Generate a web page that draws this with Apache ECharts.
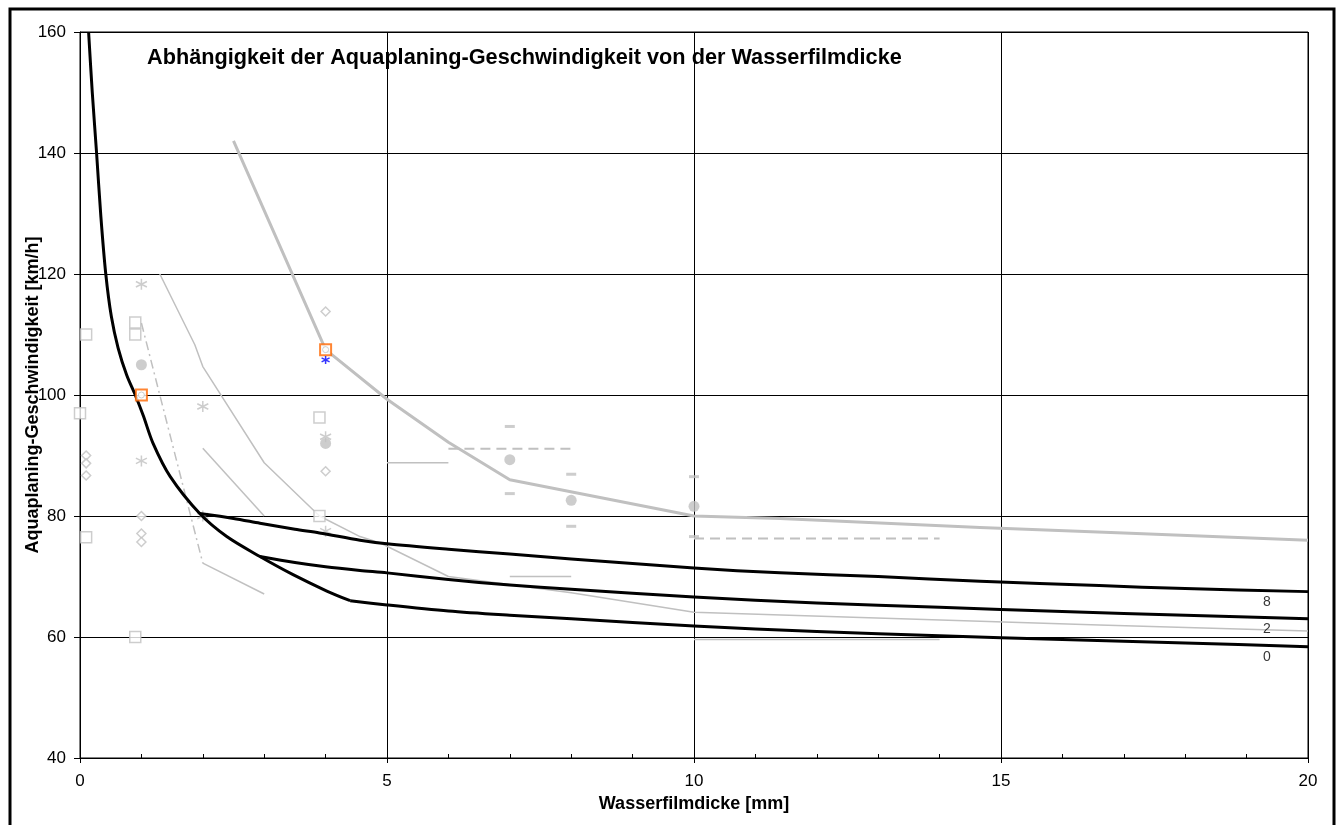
<!DOCTYPE html>
<html>
<head>
<meta charset="utf-8">
<script src="https://cdn.jsdelivr.net/npm/echarts/dist/echarts.min.js"></script>
<style>
  html, body { margin: 0; padding: 0; background: #fff; }
  #chart { width: 1336px; height: 825px; }
</style>
</head>
<body>
<div id="chart"></div>
<script>
// Aquaplaning speed [km/h] over water film depth [mm]

// black curves (tread depth 0, 2 and 8 mm); the 0 mm curve has a kink at 4.4 mm
const curve0Steep = [[0.14,160],[0.2,150],[0.27,140],[0.34,129.5],[0.42,120],[0.51,113],[0.62,107.8],[0.76,103.3],
  [0.9,100],[1.03,96.6],[1.19,92],[1.47,86.5],[1.95,80.4],[2.39,76.6],[2.93,73.3],[3.47,70.3],[4.02,67.6],[4.4,66]];
const curve0Flat = [[4.4,66],[5,65.3],[6,64.3],[7,63.6],[8,63],[10,61.8],[12,60.9],[14,60.2],[16,59.6],[18,59],[20,58.4]];
const curve2 = [[2.93,73.3],[3.5,72.3],[4,71.6],[4.56,71],[5,70.6],[6,69.5],[7,68.6],[8,67.9],[10,66.6],
  [12,65.6],[14,64.9],[16,64.2],[18,63.6],[20,63]];
const curve8 = [[1.95,80.4],[2.5,79.6],[2.93,78.8],[3.5,77.8],[3.9,77.2],[4.56,76],[5,75.4],[6,74.5],[7,73.7],
  [8,72.9],[10,71.4],[11.4,70.6],[13,70],[14.66,69.2],[16.6,68.5],[18,68],[20,67.5]];
const curveNames = [
  { x: 19.33, y: 67.7, text: '8' },
  { x: 19.33, y: 63.2, text: '2' },
  { x: 19.33, y: 58.6, text: '0' }
];

// grey measured curves
const measuredUpper = [[2.5,142],[4,107.5],[5,99.3],[6,92.2],[7,86],[10,80],[11.4,79.6],[14.66,78.1],[17,77.2],[20,76]];
const measuredLower = [[1.3,120],[1.87,108.3],[2,104.7],[3,88.8],[3.9,80],[4.56,76.6],[4.9,75.5],[6,70],[8,67.3],
  [10,64.1],[14.66,62.6],[16.6,62],[20,61]];
const measuredShortA = [[2,91.2],[3,80]];
const measuredDashDot = [[1,111.9],[2,72.2]];
const measuredTail = [[2,72.2],[3,67.1]];
const levelA = [[5,88.8],[6,88.8]];
const levelB = [[6,91.1],[8,91.1]];
const levelC = [[10,76.3],[14,76.3]];
const levelD = [[7,70],[8,70]];
const levelE = [[10,59.6],[14,59.6]];

// individual measurements
const squares = [[0.1,110],[0,97],[0.1,76.5],[0.9,112],[0.9,110],[0.9,60],[3.9,96.3],[3.9,80]];
const diamonds = [[0.1,90],[0.1,88.7],[0.1,86.7],[1,80],[1,77.1],[1,75.7],[4,113.8],[4,87.4]];
const stars = [[1,118.3],[1,89.1],[2,98.1],[2,80],[4,93.1],[4,77.5]];
const dots = [[1,105],[4,92],[7,89.3],[8,82.6],[10,81.6]];
const bars = [[7,94.8],[7,83.7],[8,86.9],[8,78.3],[10,86.5],[10,76.6]];
const highlighted = [[1,100],[4,107.5]];
const blueStar = [[4,105.8]];

// axis ticks
const xTickStep = 5, xMinorStep = 1, xMin = 0, xMax = 20;
const yTickStep = 20, yMin = 40, yMax = 160;

const GREY = '#c0c0c0';
const FONT = '"Liberation Sans", Arial, sans-serif';
const STAR = 'path://M5,0L5,10M0.67,2.5L9.33,7.5M0.67,7.5L9.33,2.5';

function line(data, width, color, type, z, smooth) {
  return {
    type: 'line', data, symbol: 'none', silent: true, z: z || 2,
    smooth: smooth || false,
    lineStyle: { color, width, type: type || 'solid', cap: 'butt', join: 'round' },
    animation: false
  };
}
function marks(data, symbol, size, style, z) {
  return {
    type: 'scatter', data, symbol, symbolSize: size, silent: true, z: z || 3,
    itemStyle: style, animation: false
  };
}

const chart = echarts.init(document.getElementById('chart'), null, { renderer: 'canvas' });
chart.setOption({
  backgroundColor: '#fff',
  animation: false,
  title: {
    text: 'Abhängigkeit der Aquaplaning-Geschwindigkeit von der Wasserfilmdicke',
    left: 142, top: 42,
    textStyle: { fontFamily: FONT, fontSize: 21.7, fontWeight: 'bold', color: '#000' }
  },
  grid: { left: 80, top: 32, width: 1228, height: 726, show: true, borderColor: '#000', borderWidth: 1 },
  xAxis: [{
    type: 'value', min: xMin, max: xMax, interval: xTickStep,
    name: 'Wasserfilmdicke [mm]', nameLocation: 'middle', nameGap: 37, nameMoveOverlap: false,
    nameTextStyle: { fontFamily: FONT, fontSize: 18, fontWeight: 'bold', color: '#000' },
    axisLine: { lineStyle: { color: '#000', width: 1 } },
    axisTick: { show: true, length: 5, lineStyle: { color: '#000' } },
    axisLabel: { fontFamily: FONT, fontSize: 17, color: '#000', margin: 15 },
    splitLine: { show: true, lineStyle: { color: '#000', width: 1 } }
  }, {
    type: 'value', min: xMin, max: xMax, interval: xMinorStep, position: 'bottom',
    axisLine: { show: false },
    axisTick: { show: true, inside: true, length: 4, lineStyle: { color: '#000' } },
    axisLabel: { show: false },
    splitLine: { show: false }
  }],
  yAxis: {
    type: 'value', min: yMin, max: yMax, interval: yTickStep,
    name: 'Aquaplaning-Geschwindigkeit [km/h]', nameLocation: 'middle', nameGap: 38, nameRotate: 90,
    nameMoveOverlap: false,
    nameTextStyle: { fontFamily: FONT, fontSize: 18, fontWeight: 'bold', color: '#000' },
    axisLine: { show: true, lineStyle: { color: '#000', width: 1 } },
    axisTick: { show: true, length: 6, lineStyle: { color: '#000' } },
    axisLabel: { fontFamily: FONT, fontSize: 17, color: '#000', margin: 14 },
    splitLine: { show: true, lineStyle: { color: '#000', width: 1 } }
  },
  graphic: [{
    type: 'rect', silent: true, z: 100,
    shape: { x: 10, y: 9, width: 1324, height: 830 },
    style: { fill: 'none', stroke: '#000', lineWidth: 3 }
  }],
  series: [
    line(measuredUpper, 3, GREY),
    line(measuredLower, 1.5, GREY),
    line(measuredShortA, 1.5, GREY),
    line(measuredDashDot, 1.5, GREY, [9, 4, 2, 4]),
    line(measuredTail, 1.5, GREY),
    line(levelA, 1.5, GREY),
    line(levelB, 2, GREY, [10, 6]),
    line(levelC, 2, GREY, [10, 6]),
    line(levelD, 1.5, GREY),
    line(levelE, 1.5, GREY),
    marks(squares, 'rect', 11, { color: '#fff', borderColor: GREY, borderWidth: 1.5 }),
    marks(diamonds, 'diamond', [9, 9], { color: '#fff', borderColor: GREY, borderWidth: 1.5 }),
    marks(stars, STAR, 11, { color: 'none', borderColor: GREY, borderWidth: 1.5 }),
    marks(dots, 'circle', 11, { color: GREY }),
    marks(bars, 'rect', [10, 3], { color: GREY }),
    line(curve0Steep, 3, '#000', 'solid', 5, 0.3),
    line(curve0Flat, 3, '#000', 'solid', 5, 0.3),
    line(curve2, 3, '#000', 'solid', 5, 0.3),
    line(curve8, 3, '#000', 'solid', 5, 0.3),
    marks(highlighted, 'rect', 11, { color: '#fff', borderColor: '#ff6600', borderWidth: 2 }, 6),
    marks(highlighted, 'circle', 6, { color: '#fff', borderColor: GREY, borderWidth: 1 }, 7),
    marks(blueStar, STAR, 8, { color: 'none', borderColor: '#0000ff', borderWidth: 1.5 }, 6),
    {
      type: 'scatter', silent: true, z: 8, animation: false,
      data: curveNames.map(c => ({ value: [c.x, c.y], label: { formatter: c.text } })),
      symbolSize: 1, itemStyle: { color: 'rgba(0,0,0,0)' },
      label: { show: true, position: 'bottom', distance: 4, fontFamily: FONT, fontSize: 14, color: '#000' }
    }
  ]
});
</script>
</body>
</html>
